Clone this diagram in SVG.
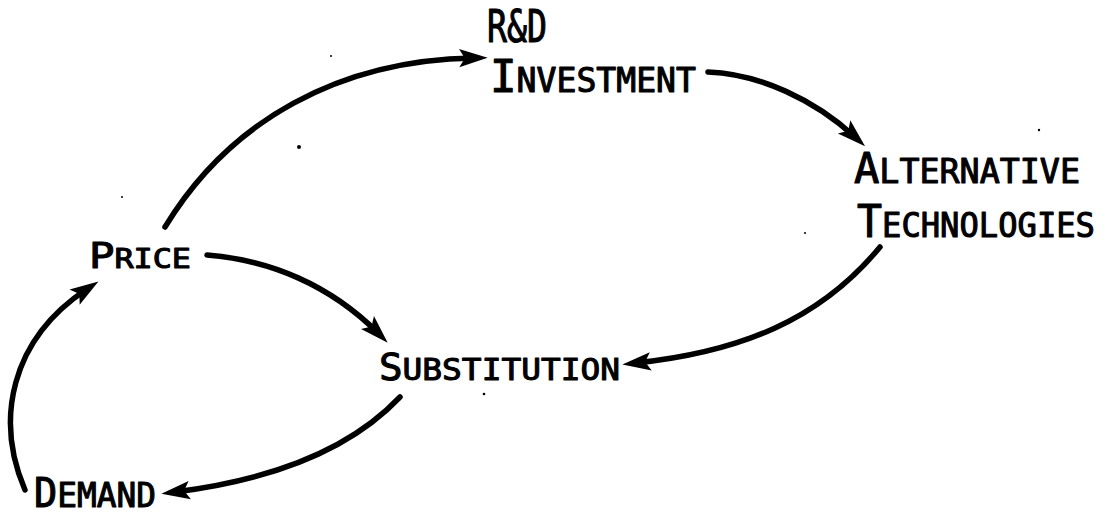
<svg xmlns="http://www.w3.org/2000/svg" width="1105" height="517" viewBox="0 0 1105 517">
<style>
.lbl{font-family:"DejaVu Sans Mono","Liberation Mono",monospace;fill:#000;stroke:#000;stroke-width:1.1;stroke-linejoin:round;}
.edge{fill:none;stroke:#000;stroke-width:5.5;stroke-linecap:round;marker-end:url(#ah);}
.speck{fill:#000;}
</style>
<defs>
<marker id="ah" markerUnits="userSpaceOnUse" markerWidth="32" markerHeight="22" viewBox="0 -9 28 18" refX="13" refY="0" orient="auto">
<path d="M0,-8 L25,0 L0,8 L5,0 Z" fill="#000"/>
</marker>
</defs>
<rect width="1105" height="517" fill="#fff"/>
<g id="connectors">
<path class="edge" d="M165,227 C230,120 340,60 474,58"/>
<path class="edge" d="M708,72 C760,74 815,100 855,137"/>
<path class="edge" d="M880,247 C820,320 740,352 636,363"/>
<path class="edge" d="M207,255 C270,260 330,285 378,333"/>
<path class="edge" d="M400,397 C350,450 270,480 175,492"/>
<path class="edge" d="M25,490 C-5,420 10,340 87,289"/>
</g>
<g id="node-rd">
<text class="lbl" x="487" y="42" font-size="44" textLength="60" lengthAdjust="spacingAndGlyphs">R&amp;D</text>
<text class="lbl" x="490" y="92" textLength="206" lengthAdjust="spacingAndGlyphs"><tspan font-size="44">I</tspan><tspan font-size="33">NVESTMENT</tspan></text>
</g>
<g id="node-alt">
<text class="lbl" x="854" y="183" textLength="226" lengthAdjust="spacingAndGlyphs"><tspan font-size="43">A</tspan><tspan font-size="34">LTERNATIVE</tspan></text>
<text class="lbl" x="857" y="237" textLength="238" lengthAdjust="spacingAndGlyphs"><tspan font-size="44">T</tspan><tspan font-size="34">ECHNOLOGIES</tspan></text>
</g>
<g id="node-price">
<text class="lbl" x="89" y="268" textLength="102" lengthAdjust="spacingAndGlyphs"><tspan font-size="36">P</tspan><tspan font-size="27">RICE</tspan></text>
</g>
<g id="node-substitution">
<text class="lbl" x="379" y="380" textLength="241" lengthAdjust="spacingAndGlyphs"><tspan font-size="37">S</tspan><tspan font-size="31">UBSTITUTION</tspan></text>
</g>
<g id="node-demand">
<text class="lbl" x="34" y="507" textLength="122" lengthAdjust="spacingAndGlyphs"><tspan font-size="40">D</tspan><tspan font-size="34">EMAND</tspan></text>
</g>
<g id="specks">
<circle class="speck" cx="331" cy="56" r="1"/>
<circle class="speck" cx="299" cy="147" r="2"/>
<circle class="speck" cx="122" cy="197" r="1"/>
<circle class="speck" cx="1039" cy="130" r="1.2"/>
<circle class="speck" cx="805" cy="233" r="1"/>
<circle class="speck" cx="484" cy="394" r="1.3"/>
</g>
</svg>
